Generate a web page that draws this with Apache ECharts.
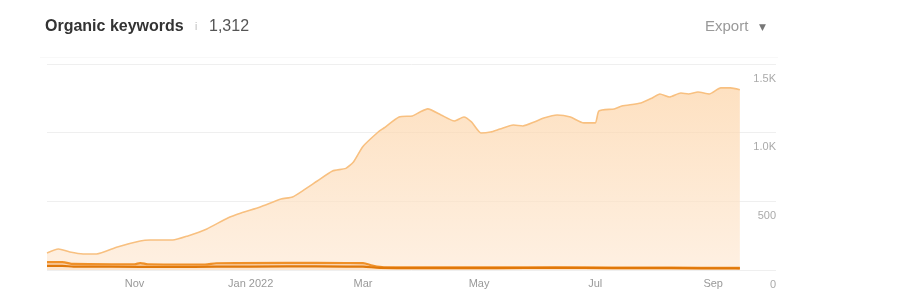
<!DOCTYPE html>
<html>
<head>
<meta charset="utf-8">
<style>
html,body{margin:0;padding:0;background:#fff;}
#chart{width:898px;height:301px;}
</style>
<script src="https://cdn.jsdelivr.net/npm/echarts@6/dist/echarts.min.js"></script>
</head>
<body>
<div id="chart"></div>
<script>
// ---- data ----
var axisStart = '2021-09-16';
var axisEnd = '2022-10-04';
var monthNames = ['Jan','Feb','Mar','Apr','May','Jun','Jul','Aug','Sep','Oct','Nov','Dec'];
var yTicks = [0, 500, 1000, 1500];
var yTickLabels = ['0', '500', '1.0K', '1.5K'];

var totalDates = ['2021-09-16','2021-09-22','2021-09-28','2021-10-05','2021-10-12','2021-10-23','2021-11-04','2021-11-09','2021-11-21','2021-11-29','2021-12-09','2021-12-20','2021-12-27','2022-01-06','2022-01-17','2022-01-23','2022-01-29','2022-02-05','2022-02-13','2022-02-20','2022-02-24','2022-03-01','2022-03-09','2022-03-12','2022-03-20','2022-03-27','2022-03-31','2022-04-04','2022-04-11','2022-04-18','2022-04-23','2022-04-27','2022-05-02','2022-05-07','2022-05-12','2022-05-19','2022-05-24','2022-05-30','2022-06-04','2022-06-11','2022-06-18','2022-06-25','2022-07-01','2022-07-03','2022-07-11','2022-07-15','2022-07-25','2022-07-31','2022-08-04','2022-08-09','2022-08-15','2022-08-19','2022-08-24','2022-08-30','2022-09-05','2022-09-10','2022-09-15'];
var totalValues = [124,153,131,117,117,168,211,218,218,248,299,379,415,459,517,532,583,648,721,740,787,900,1005,1034,1114,1122,1151,1173,1129,1085,1114,1078,998,1005,1027,1056,1049,1078,1107,1129,1114,1071,1071,1158,1173,1194,1216,1253,1282,1260,1289,1282,1296,1282,1326,1326,1312];

var band1Dates = ['2021-09-16','2021-09-24','2021-09-30','2021-10-20','2021-11-01','2021-11-04','2021-11-08','2021-12-08','2021-12-14','2022-01-20','2022-02-20','2022-03-01','2022-03-06','2022-03-12','2022-04-10','2022-05-10','2022-06-10','2022-07-10','2022-08-10','2022-09-15'];
var band1Values = [57,57,44,42,42,50,42,40,49,52,51,50,32,20,20,19,20,18,17,16];

var band2Dates = ['2021-09-16','2021-09-24','2021-09-30','2021-10-20','2021-11-20','2021-12-14','2022-01-20','2022-02-20','2022-03-01','2022-03-10','2022-04-10','2022-05-10','2022-06-10','2022-07-10','2022-08-10','2022-09-15'];
var band2Values = [30,30,25,24,23,24,26,25,24,16,14,14,15,14,13,12];

// ---- build categories ----
function fmt(d){
  var m = d.getUTCMonth()+1, day = d.getUTCDate();
  return d.getUTCFullYear()+'-'+(m<10?'0':'')+m+'-'+(day<10?'0':'')+day;
}
var categories = [];
(function(){
  var d = new Date(axisStart+'T00:00:00Z'), e = new Date(axisEnd+'T00:00:00Z');
  while (d <= e) { categories.push(fmt(d)); d = new Date(d.getTime()+86400000); }
})();
function toSeries(dates, values){
  var arr = categories.map(function(){ return null; });
  dates.forEach(function(dt, i){
    var idx = categories.indexOf(dt);
    if (idx >= 0) arr[idx] = values[i];
  });
  return arr;
}

var chart = echarts.init(document.getElementById('chart'));
var labelMonths = [10, 0, 2, 4, 6, 8];
chart.setOption({
  animation: false,
  grid: { left: 47, right: 122, top: 64, bottom: 31, containLabel: false },
  graphic: [
    { type: 'line', shape: { x1: 40, y1: 57.5, x2: 778, y2: 57.5 }, style: { stroke: '#f8f8f8', lineWidth: 1 } },
    { type: 'text', left: 45, top: 19, style: { text: 'Organic keywords', font: 'bold 16px "Liberation Sans", Arial, sans-serif', fill: '#333' } },
    { type: 'text', left: 195, top: 22, style: { text: 'i', font: '10px "Liberation Sans", Arial, sans-serif', fill: '#bbb' } },
    { type: 'text', left: 209, top: 19, style: { text: '1,312', font: '16px "Liberation Sans", Arial, sans-serif', fill: '#555' } },
    { type: 'text', left: 705, top: 19, style: { text: 'Export', font: '15px "Liberation Sans", Arial, sans-serif', fill: '#999' } },
    { type: 'text', left: 759, top: 23, style: { text: '▼', font: '9px "DejaVu Sans", sans-serif', fill: '#777' } }
  ],
  xAxis: {
    type: 'category',
    data: categories,
    boundaryGap: false,
    axisLine: { show: false },
    axisTick: { show: false },
    splitLine: { show: false },
    axisLabel: {
      color: '#999',
      fontSize: 11,
      fontFamily: '"Liberation Sans", Arial, sans-serif',
      margin: 8,
      interval: function(index, value){
        var p = value.split('-');
        return p[2] === '01' && labelMonths.indexOf(parseInt(p[1],10)-1) >= 0;
      },
      formatter: function(value){
        var p = value.split('-');
        var m = parseInt(p[1],10)-1;
        return m === 0 ? monthNames[m] + ' ' + p[0] : monthNames[m];
      }
    }
  },
  yAxis: {
    type: 'value',
    position: 'right',
    min: 0, max: 1500, interval: 500,
    axisLine: { show: false },
    axisTick: { show: false },
    splitLine: { lineStyle: { color: '#efefef', width: 1 } },
    axisLabel: {
      inside: true,
      margin: 0,
      color: '#aaa',
      fontSize: 11,
      fontFamily: '"Liberation Sans", Arial, sans-serif',
      verticalAlign: 'top',
      padding: [9, 0, 0, 0],
      showMinLabel: true,
      showMaxLabel: true,
      formatter: function(v){ var i = yTicks.indexOf(v); return i >= 0 ? yTickLabels[i] : ''; }
    }
  },
  series: [
    {
      type: 'line',
      data: toSeries(totalDates, totalValues),
      connectNulls: true,
      showSymbol: false,
      smooth: 0.2,
      lineStyle: { color: '#f8c080', width: 1.6 },
      areaStyle: {
        color: new echarts.graphic.LinearGradient(0, 0, 0, 1, [
          { offset: 0, color: '#fcd3a6' },
          { offset: 1, color: '#fde9d5' }
        ])
      },
      z: 1
    },
    {
      type: 'line',
      data: toSeries(band1Dates, band1Values),
      connectNulls: true,
      showSymbol: false,
      smooth: 0.3,
      lineStyle: { color: '#ef9028', width: 2.2 },
      areaStyle: { color: '#f8c89a', opacity: 0.7 },
      z: 2
    },
    {
      type: 'line',
      data: toSeries(band2Dates, band2Values),
      connectNulls: true,
      showSymbol: false,
      smooth: 0.3,
      lineStyle: { color: '#e0780a', width: 2.2 },
      areaStyle: { color: '#fde6cf', opacity: 1 },
      z: 3
    }
  ]
});
</script>
</body>
</html>
